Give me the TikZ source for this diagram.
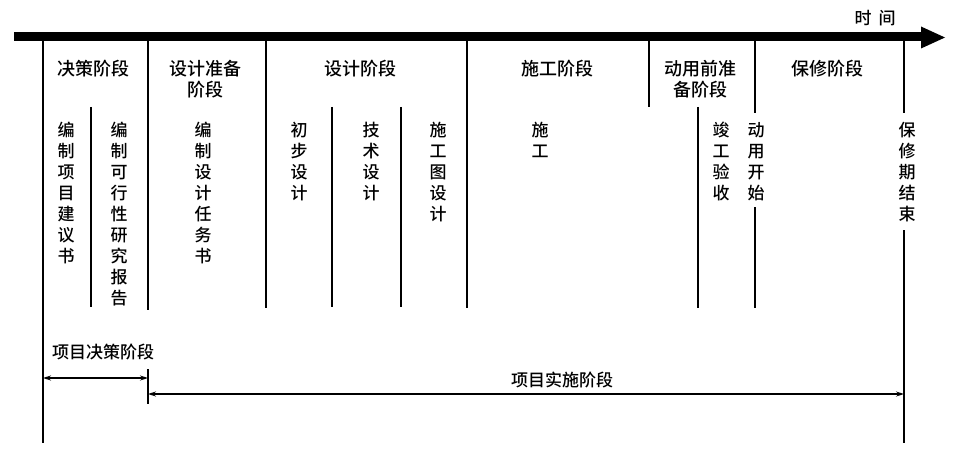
\documentclass[tikz,border=0pt]{standalone}
\usepackage{fontspec}
\newfontfamily\cjk{Noto Sans CJK SC}
\newfontfamily\cjkb{Noto Sans CJK SC Medium}
\usetikzlibrary{arrows.meta}
\begin{document}
\begin{tikzpicture}[x=1pt,y=-1pt,
  major/.style={line width=2.2pt},
  minor/.style={line width=1.4pt},
  head/.style={font=\cjkb\fontsize{18}{21}\selectfont,align=center,inner sep=0pt},
  col/.style={font=\cjkb\fontsize{17}{21}\selectfont,align=center,inner sep=0pt,anchor=north},
  lbl/.style={font=\cjkb\fontsize{17}{21}\selectfont,inner sep=0pt},
  dim/.style={line width=1.1pt,{Stealth[length=8pt,width=5pt]}-{Stealth[length=8pt,width=5pt]}}
]
\useasboundingbox (0,0) rectangle (957,457);
% time axis
\coordinate (axs) at (14,37);
\coordinate (axe) at (923,37);
\draw[line width=9pt] (axs) -- (axe);
\fill (921,26.5) -- (945,37.5) -- (921,48.5) -- cycle;
\node[lbl] (time) at (875,18) {时\hspace{7pt}间};

% major vertical lines
\draw[major] (43,40) -- (43,443);
\draw[major] (148,40) -- (148,310);
\draw[major] (266,40) -- (266,308);
\draw[major] (467,40) -- (467,308);
\draw[major] (649,40) -- (649,107);
\draw[major] (755,40) -- (755,113);
\draw[major] (755,207) -- (755,308);
\draw[major] (904,40) -- (904,113);
\draw[major] (904,230) -- (904,443);
% minor vertical lines
\draw[minor] (91,107) -- (91,307);
\draw[minor] (332,107) -- (332,307);
\draw[minor] (401,107) -- (401,307);
\draw[minor] (698,107) -- (698,308);

% headers
\node[head] (h1) at (93,69) {决策阶段};
\node[head] (h2) at (205,79.5) {设计准备\\阶段};
\node[head] (h3) at (360,69) {设计阶段};
\node[head] (h4) at (557,69) {施工阶段};
\node[head] (h5) at (700,79.5) {动用前准\\备阶段};
\node[head] (h6) at (827,69) {保修阶段};

% vertical column texts
\node[col] (c1) at (66,122) {编\\制\\项\\目\\建\\议\\书};
\node[col] (c2) at (119,122) {编\\制\\可\\行\\性\\研\\究\\报\\告};
\node[col] (c3) at (203,122) {编\\制\\设\\计\\任\\务\\书};
\node[col] (c4) at (299,122) {初\\步\\设\\计};
\node[col] (c5) at (371,122) {技\\术\\设\\计};
\node[col] (c6) at (438,122) {施\\工\\图\\设\\计};
\node[col] (c7) at (540,122) {施\\工};
\node[col] (c8) at (721,122) {竣\\工\\验\\收};
\node[col] (c9) at (756,122) {动\\用\\开\\始};
\node[col] (c10) at (907,122) {保\\修\\期\\结\\束};

% bottom phases
\draw[major] (148,369) -- (148,404);
\coordinate (l1) at (43,378);
\coordinate (r1) at (148,378);
\coordinate (l2) at (148,394);
\coordinate (r2) at (904,394);
\draw[dim] (l1) -- (r1);
\draw[dim] (l2) -- (r2);
\node[lbl] (p1) at (103,352) {项目决策阶段};
\node[lbl] (p2) at (562,380) {项目实施阶段};
\end{tikzpicture}
\end{document}
